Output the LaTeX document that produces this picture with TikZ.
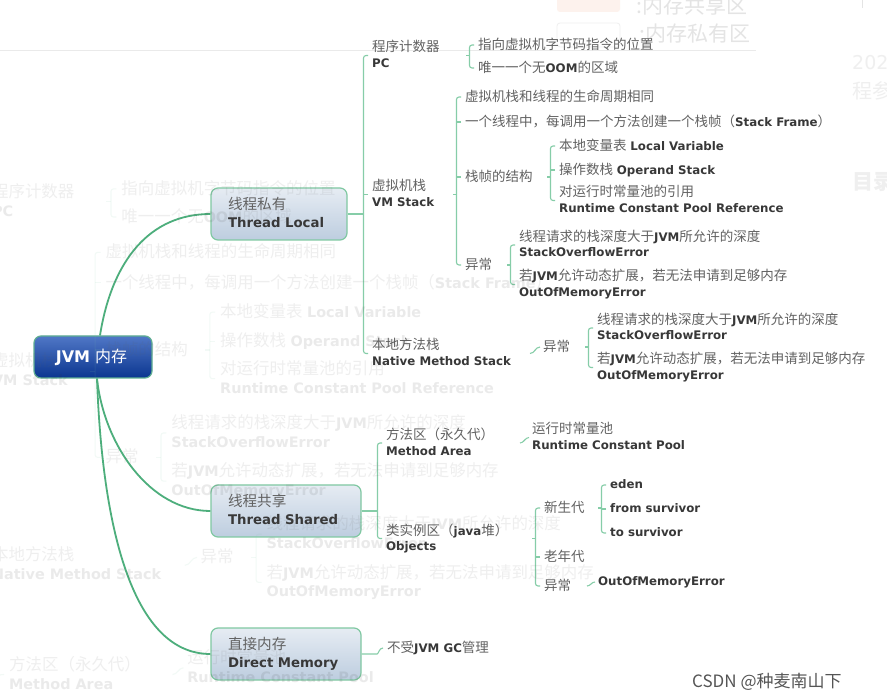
\documentclass[tikz,border=0pt]{standalone}
\usepackage{fontspec}
\setmainfont{DejaVu Sans}
\newfontfamily\cjk{Noto Sans CJK SC}

\definecolor{zhc}{HTML}{626262}
\definecolor{enc}{HTML}{383838}
\definecolor{curve}{HTML}{4DAE7C}
\definecolor{brk}{HTML}{86CDA8}
\definecolor{boxtop}{HTML}{E6ECF3}
\definecolor{boxbot}{HTML}{BDCDDF}
\definecolor{boxedge}{HTML}{80C8A2}
\definecolor{jvmtop}{HTML}{5077C6}
\definecolor{jvmmid}{HTML}{1C4BA6}
\definecolor{jvmbot}{HTML}{0B3690}
\definecolor{jvmedge}{HTML}{5FAE92}
\definecolor{wm}{HTML}{555555}
\definecolor{faint}{HTML}{E4E4E4}
\definecolor{fainter}{HTML}{EFEFEF}
\definecolor{faintline}{HTML}{EAEAEA}
\definecolor{legfill}{HTML}{FDF2ED}

% text helpers: Chinese runs in grey, Latin runs in bold
\newcommand\zh[1]{{\cjk\fontsize{13.5}{15.5}\selectfont\color{zhc}#1}}
\newcommand\en[1]{{\bfseries\color{enc}#1}}
\newcommand\ls{\rule[-3pt]{0pt}{12.5pt}}
\newcommand\zhb[1]{{\cjk\fontsize{14.6}{18}\selectfont\color{zhc}#1}}
\newcommand\enb[1]{{\bfseries\color{enc}#1}}
\newcommand\lb{\rule[-3.5pt]{0pt}{14pt}}

\tikzset{
  item/.style={anchor=west, inner sep=0pt, align=left, font=\fontsize{11.8}{15.5}\selectfont},
  topic/.style={rectangle, rounded corners=7pt, draw=boxedge, line width=1.2pt,
    top color=boxtop, bottom color=boxbot, inner xsep=17pt, inner ysep=0pt,
    minimum height=52pt, align=left, font=\fontsize{13.3}{18}\selectfont},
  root/.style={rectangle, rounded corners=7pt, draw=jvmedge, line width=1.2pt,
    top color=jvmtop, middle color=jvmmid, bottom color=jvmbot,
    minimum width=118pt, minimum height=42pt, inner sep=0pt, text=white,
    font=\fontsize{16}{18}\selectfont},
  branch/.style={draw=curve, line width=1.8pt},
  twig/.style={draw=brk, line width=1.1pt, rounded corners=2.5pt},
  faintword/.style={anchor=west, inner sep=0pt},
}

% bracket joining a parent (#1) to its children #2 (first) .. #3 (last)
\newcommand\fork[3]{%
  \path ([xshift=-8.5pt]#2.west) coordinate (#2-bx);
  \draw[twig] ([xshift=-4pt]#2.west) -- (#2-bx) |- ([xshift=-4pt]#3.west);
  \draw[twig] (#2-bx |- #1.east) -- ++(-4,0);
}
% short tick for a middle child
\newcommand\tick[1]{\draw[twig] ([xshift=-4pt]#1.west) -- ++(-4.5,0);}
% small s-shaped link from parent #1 to single child #2, starting #3 before it
\newcommand\hop[3]{%
  \path ([xshift=-#3]#2.west) coordinate (#2-hs);
  \draw[twig] (#2-hs |- #1.east) to[out=0,in=180] ([xshift=-3pt]#2.west);
}

\newcommand\jvmmap{%
  % central topic and main branches
  \node[root] (jvm) at (93,357) {\hspace{-3pt}\textbf{JVM}\hspace{5pt}{\cjk 内存}};
  \node[topic, text width=102pt] (tl) at (279,214)
    {\lb\zhb{线程私有}\\\lb\enb{Thread Local}};
  \node[topic, text width=116pt] (ts) at (286,511)
    {\lb\zhb{线程共享}\\\lb\enb{Thread Shared}};
  \node[topic, text width=116pt] (dm) at (286,654)
    {\lb\zhb{直接内存}\\\lb\enb{Direct Memory}};
  \draw[branch] ([xshift=7pt]jvm.north) .. controls (112,260) and (150,214) .. (tl.west);
  \draw[branch] ([xshift=4pt]jvm.south) .. controls (104,445) and (150,511) .. (ts.west);
  \draw[branch] ([xshift=4pt]jvm.south) .. controls (102,520) and (130,654) .. (dm.west);
  % thread-local area
  \node[item] (pc)  at (372,55.5)  {\ls\zh{程序计数器}\\\ls\en{PC}};
  \node[item] (vms) at (372,194.5) {\ls\zh{虚拟机栈}\\\ls\en{VM Stack}};
  \node[item] (nms) at (372,353.5) {\ls\zh{本地方法栈}\\\ls\en{Native Method Stack}};
  \path ([xshift=-8.5pt]pc.west) coordinate (pc-bx);
  \draw[twig] (tl.east) -- (pc-bx |- tl.east);
  \draw[twig] ([xshift=-4pt]pc.west) -- (pc-bx) |- ([xshift=-4pt]nms.west);
  \tick{vms}
  % program counter
  \node[item] (pc1) at (478,45) {\ls\zh{指向虚拟机字节码指令的位置}};
  \node[item] (pc2) at (478,68) {\ls\zh{唯一一个无}\en{OOM}\zh{的区域}};
  \fork{pc}{pc1}{pc2}
  % VM stack
  \node[item] (vm1) at (465,97)  {\ls\zh{虚拟机栈和线程的生命周期相同}};
  \node[item] (vm2) at (465,122) {\ls\zh{一个线程中，每调用一个方法创建一个栈帧（}\en{Stack Frame}\zh{）}};
  \node[item] (vm3) at (465,177) {\ls\zh{栈帧的结构}};
  \node[item] (vm4) at (465,265) {\ls\zh{异常}};
  \fork{vms}{vm1}{vm4}
  \tick{vm2}\tick{vm3}
  \node[item] (sf1) at (559,146)   {\ls\zh{本地变量表}\ \en{Local Variable}};
  \node[item] (sf2) at (559,170)   {\ls\zh{操作数栈}\ \en{Operand Stack}};
  \node[item] (sf3) at (559,200.5) {\ls\zh{对运行时常量池的引用}\\\ls\en{Runtime Constant Pool Reference}};
  \fork{vm3}{sf1}{sf3}
  \tick{sf2}
  \node[item] (ve1) at (519,245)   {\ls\zh{线程请求的栈深度大于}\en{JVM}\zh{所允许的深度}\\\ls\en{StackOverflowError}};
  \node[item] (ve2) at (519,284.5) {\ls\zh{若}\en{JVM}\zh{允许动态扩展，若无法申请到足够内存}\\\ls\en{OutOfMemoryError}};
  \fork{vm4}{ve1}{ve2}
  % native method stack
  \node[item] (nex) at (543,347) {\ls\zh{异常}};
  \hop{nms}{nex}{13pt}
  \node[item] (ne1) at (597,328)   {\ls\zh{线程请求的栈深度大于}\en{JVM}\zh{所允许的深度}\\\ls\en{StackOverflowError}};
  \node[item] (ne2) at (597,367.5) {\ls\zh{若}\en{JVM}\zh{允许动态扩展，若无法申请到足够内存}\\\ls\en{OutOfMemoryError}};
  \fork{nex}{ne1}{ne2}
  % thread-shared area
  \node[item] (ma) at (386,443)   {\ls\zh{方法区（永久代）}\\\ls\en{Method Area}};
  \node[item] (ob) at (386,538.5) {\ls\zh{类实例区（}\en{java}\zh{堆）}\\\ls\en{Objects}};
  \path ([xshift=-8.5pt]ma.west) coordinate (ma-bx);
  \draw[twig] (ts.east) -- (ma-bx |- ts.east);
  \draw[twig] ([xshift=-4pt]ma.west) -- (ma-bx) |- ([xshift=-4pt]ob.west);
  \node[item] (rcp) at (532,437.5) {\ls\zh{运行时常量池}\\\ls\en{Runtime Constant Pool}};
  \hop{ma}{rcp}{12pt}
  \node[item] (yg)  at (544,508) {\ls\zh{新生代}};
  \node[item] (og)  at (544,557) {\ls\zh{老年代}};
  \node[item] (oex) at (544,586) {\ls\zh{异常}};
  \fork{ob}{yg}{oex}
  \tick{og}
  \node[item] (eden) at (610,485) {\ls\en{eden}};
  \node[item] (fsv)  at (610,509) {\ls\en{from survivor}};
  \node[item] (tsv)  at (610,533) {\ls\en{to survivor}};
  \fork{yg}{eden}{tsv}
  \tick{fsv}
  \node[item] (oom) at (598,582) {\ls\en{OutOfMemoryError}};
  \hop{oex}{oom}{11pt}
  % direct memory
  \node[item] (nogc) at (387,648) {\ls\zh{不受}\en{JVM GC}\zh{管理}};
  \draw[twig] (dm.east) -- ++(13,0) to[out=0,in=180] ([xshift=-4pt]nogc.west);
}

\begin{document}
\begin{tikzpicture}[x=1pt,y=-1pt]
  \useasboundingbox (0,0) rectangle (887,700);
  \clip (0,0) rectangle (887,700);
  \fill[white] (0,0) rectangle (887,700);

  % pale legend strip along the top
  \draw[faintline, line width=0.8pt] (0,50) -- (756,50);
  \fill[legfill, rounded corners=3pt] (557,-6) rectangle (620,12);
  \draw[fainter, line width=0.8pt, rounded corners=3pt] (557,23) rectangle (620,47);
  \node[faintword, text=faint, font=\cjk\fontsize{21}{21}\selectfont] (leg1) at (636,5) {:内存共享区};
  \node[faintword, text=faint, font=\cjk\fontsize{21}{21}\selectfont] (leg2) at (639,34) {:内存私有区};
  \node[faintword, text=fainter, font=\fontsize{19}{19}\selectfont] (yr) at (852,63) {2024};
  \node[faintword, text=fainter, font=\cjk\fontsize{20}{20}\selectfont] (cp) at (852,91) {程参};
  \node[faintword, text=fainter, font=\cjk\bfseries\fontsize{21}{21}\selectfont] (ml) at (852,182) {目录};
  \draw[faint, line width=1pt] (862,0) -- (862,8);

  % the mind map
  \jvmmap

  % watermark
  \node[faintword, text=wm, font=\cjk\fontsize{17}{17}\selectfont] (wmk) at (692,682) {CSDN @种麦南山下};

  % enlarged, washed-out copy of the map lying over the page
  \begin{scope}[shift={(-462,134)}, scale=1.22, transform shape, name prefix=g-,
      opacity=0.1, every node/.append style={text opacity=0.1}]
    \jvmmap
  \end{scope}
\end{tikzpicture}
\end{document}
